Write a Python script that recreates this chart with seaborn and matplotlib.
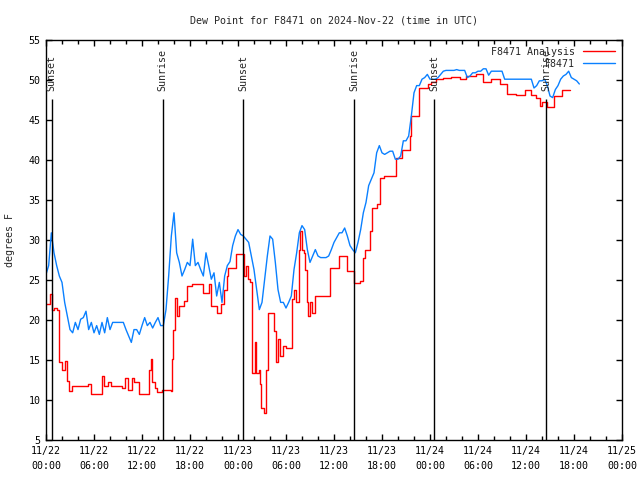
import pandas as pd
import matplotlib
matplotlib.use('Agg')
import matplotlib.pyplot as plt
import matplotlib.dates as mdates
import seaborn as sns

start = pd.Timestamp('2024-11-22 00:00')

# station readings, every 20 minutes from 11/22 00:00
f8471 = [
    25.7, 26.8, 30.9, 28.4, 26.8, 25.5, 24.7, 22.2, 20.5, 18.8,
    18.4, 19.7, 18.8, 20.1, 20.3, 21.1, 18.8, 19.7, 18.4, 19.3,
    18.2, 19.7, 18.4, 20.3, 18.8, 19.7, 19.7, 19.7, 19.7, 19.7,
    18.8, 18.0, 17.2, 18.8, 18.8, 18.2, 19.3, 20.3, 19.3, 19.7,
    19.0, 19.7, 20.3, 19.3, 19.3, 21.3, 25.5, 30.5, 33.4, 28.4,
    27.2, 25.5, 26.3, 27.2, 26.8, 30.1, 26.8, 27.2, 26.3, 25.5,
    28.4, 26.8, 25.1, 25.9, 23.0, 24.7, 22.2, 25.5, 26.8, 27.3,
    29.3, 30.5, 31.3, 30.7, 30.5, 30.1, 29.7, 28.0, 26.3, 23.8,
    21.3, 22.2, 25.1, 28.0, 30.5, 30.1, 27.2, 23.8, 22.2, 22.2,
    21.5, 22.2, 23.0, 26.3, 28.4, 30.9, 31.8, 31.3, 28.8, 27.2,
    28.0, 28.8, 28.0, 27.8, 27.8, 27.8, 28.0, 28.8, 29.7, 30.3,
    30.9, 30.9, 31.5, 30.5, 29.3, 28.8, 28.4, 29.7, 31.3, 33.4,
    34.7, 36.8, 37.6, 38.4, 40.9, 41.8, 40.9, 40.7, 40.9, 41.1,
    41.1, 40.1, 40.1, 40.5, 42.4, 42.4, 43.0, 45.5, 48.4, 49.3,
    49.3, 50.1, 50.3, 50.7, 50.1, 50.1, 50.1, 50.3, 50.7, 51.1,
    51.2, 51.2, 51.2, 51.2, 51.3, 51.2, 51.2, 51.2, 50.3, 50.5,
    50.9, 50.9, 51.1, 51.1, 51.4, 51.4, 50.6, 51.1, 51.1, 51.1,
    51.1, 51.1, 50.1, 50.1, 50.1, 50.1, 50.1, 50.1, 50.1, 50.1,
    50.1, 50.1, 50.1, 49.0, 49.3, 49.9, 49.9, 50.1, 49.3, 48.0,
    47.8, 48.8, 49.3, 50.1, 50.5, 50.7, 51.1, 50.3, 50.1, 49.9,
    49.5,
]

# analysis: hours after start where the value changes, and the value
analysis_hours = [
    0.0, 0.5, 0.75, 1.0, 1.33, 1.67, 2.0, 2.4, 2.67, 2.9,
    3.2, 5.3, 5.6, 7.0, 7.25, 7.8, 8.1, 9.45, 9.9, 10.2,
    10.7, 11.0, 11.6, 12.9, 13.1, 13.3, 13.6, 13.9, 14.5, 15.6,
    15.75, 15.9, 16.1, 16.33, 16.6, 17.3, 17.67, 18.3, 19.67, 20.4,
    20.67, 21.4, 21.9, 22.25, 22.67, 22.75, 23.7, 24.75, 25.0, 25.25,
    25.5, 25.7, 25.8, 26.1, 26.3, 26.6, 26.8, 26.9, 27.25, 27.5,
    27.75, 28.5, 28.7, 29.0, 29.2, 29.6, 30.0, 30.7, 31.0, 31.3,
    31.6, 31.8, 32.0, 32.25, 32.4, 32.6, 32.8, 33.0, 33.3, 33.6,
    35.5, 36.6, 37.6, 38.55, 39.3, 39.6, 39.9, 40.5, 40.75, 41.4,
    41.7, 42.2, 43.7, 44.5, 45.5, 45.6, 46.6, 47.7, 48.1, 48.75,
    49.6, 50.6, 51.7, 52.5, 53.7, 54.6, 55.6, 56.7, 57.6, 58.8,
    59.9, 60.6, 61.25, 61.7, 62.0, 62.6, 63.5, 64.5, 65.5,
]
analysis = [
    22.0, 23.2, 21.3, 21.5, 21.3, 14.7, 13.8, 14.9, 12.4, 11.1,
    11.75, 12.0, 10.7, 13.0, 11.75, 12.2, 11.75, 11.5, 12.8, 11.3,
    12.8, 12.2, 10.7, 13.8, 15.1, 12.2, 11.5, 11.0, 11.3, 11.1,
    15.1, 18.8, 22.8, 20.5, 21.75, 22.4, 24.25, 24.5, 23.4, 24.5,
    21.75, 20.9, 22.0, 23.8, 25.5, 26.5, 28.2, 25.5, 26.75, 25.1,
    24.7, 18.6, 13.4, 17.2, 13.4, 13.8, 12.0, 9.0, 8.4, 13.8,
    20.9, 18.6, 14.7, 17.6, 15.5, 16.75, 16.5, 22.6, 23.8, 22.2,
    28.8, 31.1, 28.8, 28.4, 26.3, 22.2, 20.5, 22.2, 20.9, 23.0,
    26.5, 28.0, 26.1, 24.6, 24.9, 27.8, 28.8, 31.1, 34.0, 34.5,
    37.8, 38.0, 40.3, 41.3, 43.0, 45.5, 49.0, 49.5, 49.7, 50.1,
    50.2, 50.4, 50.1, 50.5, 50.7, 49.7, 50.1, 49.5, 48.2, 48.1,
    48.75, 48.1, 47.8, 46.8, 47.2, 46.6, 48.0, 48.8, 48.8,
]

event_hours = [0.7, 14.58, 24.68, 38.55, 48.55, 62.5]
event_names = ['Sunset', 'Sunrise', 'Sunset', 'Sunrise', 'Sunset', 'Sunrise']

obs = pd.DataFrame({
    'time': pd.date_range(start, periods=len(f8471), freq='20min'),
    'dewpt': f8471,
})
ana = pd.DataFrame({
    'time': start + pd.to_timedelta(analysis_hours, unit='h'),
    'dewpt': analysis,
})

sns.set_style('ticks')
plt.rcParams['font.family'] = ['DejaVu Sans Mono']
plt.rcParams['font.size'] = 7.2

fig = plt.figure(figsize=(6.4, 4.8), dpi=100)
ax = fig.add_axes([46 / 640, 40 / 480, 576 / 640, 400 / 480])

sns.lineplot(data=ana, x='time', y='dewpt', ax=ax, color='#ff0000', lw=1,
             drawstyle='steps-post', label='F8471 Analysis')
sns.lineplot(data=obs, x='time', y='dewpt', ax=ax, color='#0a80ff', lw=1,
             label='F8471')

for h, name in zip(event_hours, event_names):
    t = start + pd.Timedelta(hours=h)
    ax.vlines(t, 5, 47.6, color='black', lw=1)
    ax.text(t, 48.6, name, rotation=90, ha='center', va='bottom', fontsize=7.2)

ax.set_xlim(start, start + pd.Timedelta(days=3))
ax.set_ylim(5, 55)
ax.set_yticks(range(5, 56, 5))
ax.xaxis.set_major_locator(mdates.HourLocator(byhour=[0, 6, 12, 18]))
ax.xaxis.set_minor_locator(mdates.HourLocator(interval=2))
ax.xaxis.set_major_formatter(mdates.DateFormatter('%m/%d\n%H:%M'))
ax.tick_params(axis='both', which='both', direction='in', top=True, right=True,
               color='black', labelsize=7.2, labelcolor='black')
ax.tick_params(axis='both', which='major', length=4.5, width=1, pad=4)
ax.tick_params(axis='x', which='minor', length=3, width=1)
for s in ax.spines.values():
    s.set_color('black')
    s.set_linewidth(1)

ax.set_xlabel('')
ax.set_ylabel('degrees F', fontsize=7.2, labelpad=10)
ax.set_title('Dew Point for F8471 on 2024-Nov-22 (time in UTC)', fontsize=7.2, pad=12)

h, l = ax.get_legend_handles_labels()
ax.legend(h, l, loc='upper right', frameon=False, markerfirst=False,
          fontsize=7.2, handlelength=3.2, labelspacing=0.2,
          borderaxespad=0.3, handletextpad=0.8)

fig.canvas.draw()
for lab in ax.get_xticklabels():
    lab.set_linespacing(1.7)

fig.savefig('out.png', dpi=100)
